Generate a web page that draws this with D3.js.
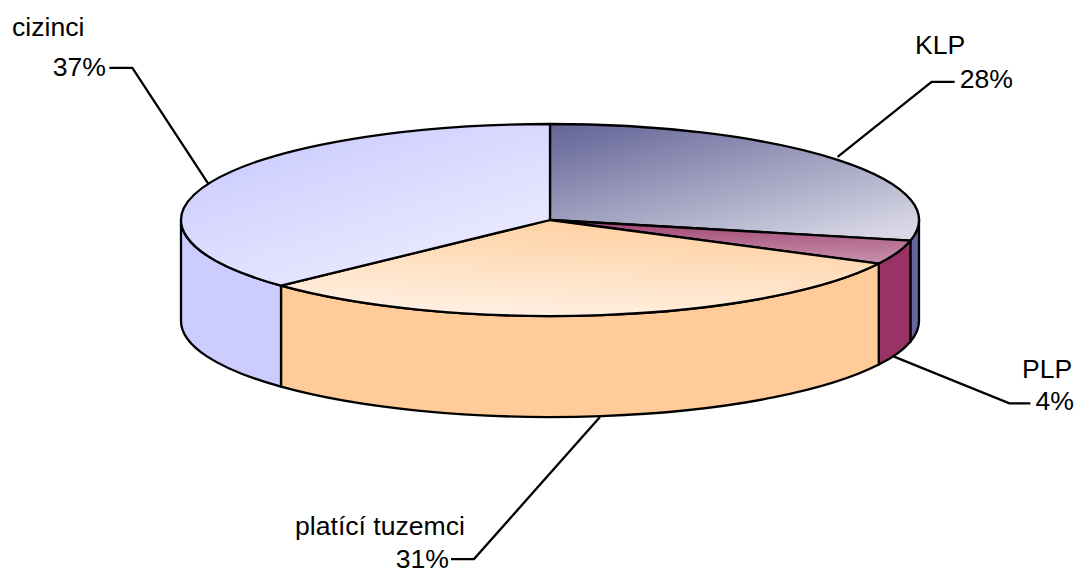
<!DOCTYPE html>
<html><head><meta charset="utf-8">
<script src="https://cdn.jsdelivr.net/npm/d3@7"></script>
<style>html,body{margin:0;padding:0;background:#fff}svg{display:block}text{font-family:"Liberation Sans",Arial,sans-serif;font-size:26.6px;fill:#000}</style>
</head><body><svg id="c" width="1078" height="571"></svg>
<script>
const categories = ["KLP","PLP","platící tuzemci","cizinci"];
const values = [28.45,4.05,30.5,37];
const baseColors = ["#666699","#993366","#FFCC99","#CCCCFF"];
const lightColors = ["#d8d8e6","#cfa3b8","#fff2e6","#efefff"];

const W=1078,H=571,cx=550,cy=220,rx=369,ry=96,depth=101;
const svg=d3.select("#c");
const arcs=d3.pie().sort(null).value(d=>d)(values);
const px=a=>cx+rx*Math.sin(a), py=a=>cy-ry*Math.cos(a);
const defs=svg.append("defs");
const gradDirs=[[0.05,0,0.85,1],[0.35,-0.3,0.6,1.3],[0.68,-0.1,0.32,1.05],[0.18,0.1,0.85,1]];
arcs.forEach((d,i)=>{
  const g=defs.append("linearGradient").attr("id","g"+i)
    .attr("x1",gradDirs[i][0]).attr("y1",gradDirs[i][1]).attr("x2",gradDirs[i][2]).attr("y2",gradDirs[i][3]);
  g.append("stop").attr("offset",0).attr("stop-color",baseColors[i]);
  g.append("stop").attr("offset",1).attr("stop-color",lightColors[i]);
});

// leader lines (behind the pie): elbow offsets relative to the slice mid-angle anchor
const labelLayout=[
 {dx:94,dy:-75,hdx:23,lx:915,ly:54,px:1013,py:88},
 {dx:116,dy:47,hdx:21,lx:1022,ly:378,px:1074,py:410},
 {dx:-126,dy:142,hdx:-23,lx:295,ly:535,px:449,py:568},
 {dx:-76,dy:-116,hdx:-23,lx:12,ly:36,px:106,py:76}
];
const anchorOffsets=[[0,-3],[-4,3],[-2,1],[-3,2]];
arcs.forEach((d,i)=>{
  const m=(d.startAngle+d.endAngle)/2, L=labelLayout[i];
  const front=Math.cos(m)<0;
  const ax=px(m)+anchorOffsets[i][0], ay=py(m)+(front?depth:0)+anchorOffsets[i][1];
  const ex=ax+L.dx, ey=ay+L.dy;
  svg.append("path").attr("d",d3.line()([[ax,ay],[ex,ey],[ex+L.hdx,ey]]))
    .attr("fill","none").attr("stroke","#000").attr("stroke-width",2.3);
});

// sides
arcs.forEach((d,i)=>{
  const a0=Math.max(d.startAngle,Math.PI/2), a1=Math.min(d.endAngle,3*Math.PI/2);
  if(a1<=a0) return;
  const x0=px(a0),y0=py(a0),x1=px(a1),y1=py(a1);
  const s=`M${x0},${y0}A${rx},${ry} 0 0 1 ${x1},${y1}L${x1},${y1+depth}A${rx},${ry} 0 0 0 ${x0},${y0+depth}Z`;
  svg.append("path").attr("d",s).attr("fill",baseColors[i]).attr("stroke","#000").attr("stroke-width",2.3).attr("stroke-linejoin","round");
});

// top slices
const arcGen=d3.arc().innerRadius(0).outerRadius(rx);
arcs.forEach((d,i)=>{
  svg.append("path").attr("d",arcGen(d))
    .attr("transform",`translate(${cx},${cy}) scale(1,${ry/rx})`)
    .attr("fill",`url(#g${i})`).attr("stroke","#000").attr("stroke-width",2.3)
    .attr("stroke-linejoin","round").attr("vector-effect","non-scaling-stroke");
});

// labels
arcs.forEach((d,i)=>{
  const L=labelLayout[i];
  svg.append("text").attr("x",L.lx).attr("y",L.ly).text(categories[i]);
  svg.append("text").attr("x",L.px).attr("y",L.py).attr("text-anchor","end").text(Math.round(values[i])+"%");
});
</script></body></html>
